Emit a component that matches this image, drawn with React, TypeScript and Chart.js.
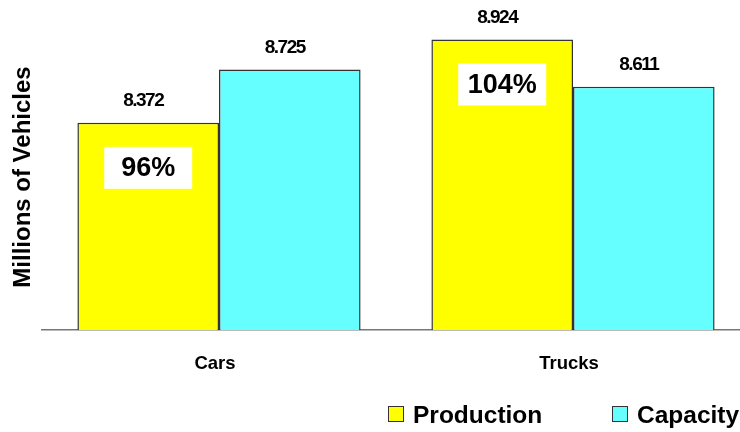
import React, { useEffect, useRef } from "react";
import { Chart, registerables } from "chart.js";

Chart.register(...registerables);

const categories = ["Cars", "Trucks"];
const production = [8.372, 8.924];
const capacity = [8.725, 8.611];
const utilization = ["96%", "104%"];
const seriesNames = ["Production", "Capacity"];
const yTitle = "Millions of Vehicles";

const FONT = '"Liberation Sans", Arial, sans-serif';
const YELLOW = "#FFFF00";
const CYAN = "#66FFFF";

const labelPlugin = {
  id: "labels",
  afterDatasetsDraw(chart: any) {
    const ctx = chart.ctx;
    const area = chart.chartArea;
    ctx.save();
    // y axis title
    ctx.save();
    ctx.translate(23.5, (area.top + area.bottom) / 2 - 2);
    ctx.rotate(-Math.PI / 2);
    ctx.font = `bold 24px ${FONT}`;
    ctx.fillStyle = "#000";
    ctx.textAlign = "center";
    ctx.textBaseline = "middle";
    ctx.fillText(yTitle, 0, 0);
    ctx.restore();

    chart.data.datasets.forEach((ds: any, di: number) => {
      const meta = chart.getDatasetMeta(di);
      meta.data.forEach((bar: any, i: number) => {
        const v = ds.data[i];
        ctx.font = `bold 19px ${FONT}`;
        (ctx as any).letterSpacing = "-1.5px";
        ctx.fillStyle = "#000";
        ctx.textAlign = "center";
        ctx.textBaseline = "middle";
        ctx.fillText(v.toFixed(3), bar.x - 5, bar.y - 22);
        (ctx as any).letterSpacing = "0px";
        if (di === 0) {
          const cy = bar.y + 45;
          ctx.fillStyle = "#fff";
          ctx.fillRect(bar.x - 44, cy - 21, 88, 42);
          ctx.fillStyle = "#000";
          ctx.font = `bold 27px ${FONT}`;
          ctx.fillText(utilization[i], bar.x, cy + 1);
        }
      });
    });
    ctx.restore();
  },
};

export default function App() {
  const ref = useRef<HTMLCanvasElement>(null);
  useEffect(() => {
    if (!ref.current) return;
    const chart = new Chart(ref.current, {
      type: "bar",
      data: {
        labels: categories,
        datasets: [
          {
            label: seriesNames[0],
            data: production,
            backgroundColor: YELLOW,
            borderColor: "#333",
            borderWidth: 1.5,
            categoryPercentage: 0.8,
            barPercentage: 1,
          },
          {
            label: seriesNames[1],
            data: capacity,
            backgroundColor: CYAN,
            borderColor: "#333",
            borderWidth: 1.5,
            categoryPercentage: 0.8,
            barPercentage: 1,
          },
        ],
      },
      options: {
        responsive: false,
        animation: false,
        devicePixelRatio: 1,
        layout: { padding: { top: 28, left: 0, right: 0, bottom: 0 } },
        plugins: { legend: { display: false }, tooltip: { enabled: false } },
        scales: {
          x: {
            offset: true,
            grid: { display: false, drawTicks: false },
            border: { display: true, color: "#777", width: 1.5 },
            ticks: {
              padding: 23,
              labelOffset: -4,
              color: "#000",
              font: { family: FONT, size: 18.5, weight: "bold" },
            },
            afterFit: (s: any) => {
              s.height = 102;
            },
          },
          y: {
            min: 7,
            max: 9,
            grid: { display: false, drawTicks: false },
            border: { display: false },
            ticks: { display: false },
            afterFit: (s: any) => {
              s.width = 42;
            },
          },
        },
      },
      plugins: [labelPlugin],
    });
    return () => chart.destroy();
  }, []);

  const sq = (c: string, left: number) => (
    <div
      style={{
        position: "absolute",
        left,
        top: 406,
        width: 14,
        height: 14,
        background: c,
        border: "1px solid #333",
      }}
    />
  );
  const txt = (t: string, left: number) => (
    <div
      style={{
        position: "absolute",
        left,
        top: 403,
        font: `bold 24.5px ${FONT}`,
        lineHeight: "24px",
        color: "#000",
        whiteSpace: "nowrap",
      }}
    >
      {t}
    </div>
  );

  return (
    <div
      style={{
        position: "absolute",
        left: 0,
        top: 0,
        width: 740,
        height: 432,
        overflow: "hidden",
        background: "#fff",
      }}
    >
      <canvas ref={ref} width={750} height={432} style={{ display: "block" }} />
      {sq(YELLOW, 388)}
      {txt(seriesNames[0], 413)}
      {sq(CYAN, 612)}
      {txt(seriesNames[1], 637)}
    </div>
  );
}
